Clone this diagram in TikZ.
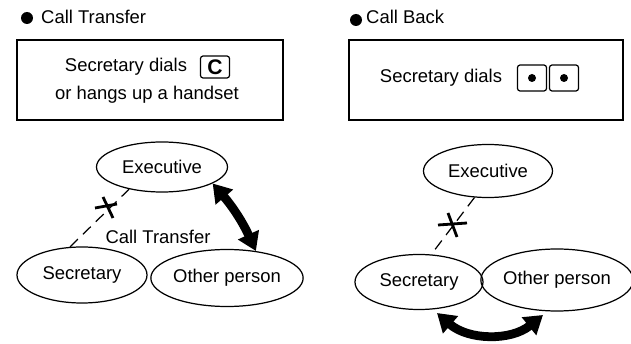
\documentclass[tikz,border=0pt]{standalone}
\usepackage{fontspec}
\setmainfont{Liberation Sans}
\usetikzlibrary{shapes.geometric,arrows.meta}

\tikzset{
  person/.style={draw, ellipse, line width=0.7pt, inner sep=0pt,
                 minimum width=26mm, minimum height=10.6mm},
  panel/.style={draw, line width=0.8pt, inner sep=0pt},
  keycap/.style={draw, rounded corners=1.5pt, line width=0.7pt, inner sep=0pt,
                 minimum width=5.8mm, minimum height=4.4mm},
  cutline/.style={dashed, dash pattern=on 2.2mm off 1.4mm, line width=0.7pt},
  cross/.style={line width=1.6pt},
  swap/.style={line width=5pt,
               {Triangle[length=3.6mm,width=4.4mm]}-{Triangle[length=3.6mm,width=4.4mm]}},
}

\begin{document}
\begin{tikzpicture}[x=0.2mm, y=-0.2mm, font=\fontsize{10.5}{12}\selectfont]
\useasboundingbox (0,0) rectangle (631,344);

% Call Transfer
\fill (27,18) circle (6);
\node[anchor=west] (hdA) at (35,17) {Call Transfer};
\node[panel, minimum width=53.2mm, minimum height=16mm] (boxA) at (150,80) {};
\node (txtA) at (126,67) {Secretary dials};
\node[keycap] (keyC) at (215,67) {\bfseries\large C};
\node (txtB) at (147,95) {or hangs up a handset};

\node[person, minimum width=26.2mm, minimum height=10mm] (execA) at (162,167) {Executive};
\node[person, minimum height=11.2mm] (secA) at (82,275) {Secretary};
\node[person, minimum width=28.6mm, minimum height=11.4mm] (othA) at (227,278) {Other person};

\draw[cutline] (secA.113) -- (execA.214);
\draw[cross] (95,208) -- (117,204);
\draw[cross] (103,197) -- (113,218);
\node (lblA) at (158,237) {Call Transfer};
\draw[swap] (execA.342) to[bend left=8] (othA.43);

% Call Back
\fill (356,20) circle (6);
\node[anchor=west] (hdB) at (360,17) {Call Back};
\node[panel, minimum width=54.8mm, minimum height=16mm] (boxB) at (486,80) {};
\node (txtC) at (441,78) {Secretary dials};
\node[keycap, minimum height=5.2mm] (keyD) at (532,78) {};
\node[keycap, minimum height=5.2mm] (keyE) at (564,78) {};
\fill (keyD.center) circle (4);
\fill (keyE.center) circle (4);

\node[person, minimum width=25.8mm, minimum height=10.6mm] (execB) at (488,171) {Executive};
\node[person, minimum width=25.6mm, minimum height=11mm] (secB) at (419,282) {Secretary};
\node[person, minimum width=28.4mm, minimum height=12.4mm] (othB) at (557,280) {Other person};

\draw[cutline] (execB.243) -- (secB.66);
\draw[cross] (438,225) -- (467,223);
\draw[cross] (448,213) -- (457,237);
\coordinate (swL) at (437,313);
\coordinate (swR) at (543,315);
\draw[swap] (swL) to[bend right=40] (swR);

\end{tikzpicture}
\end{document}
